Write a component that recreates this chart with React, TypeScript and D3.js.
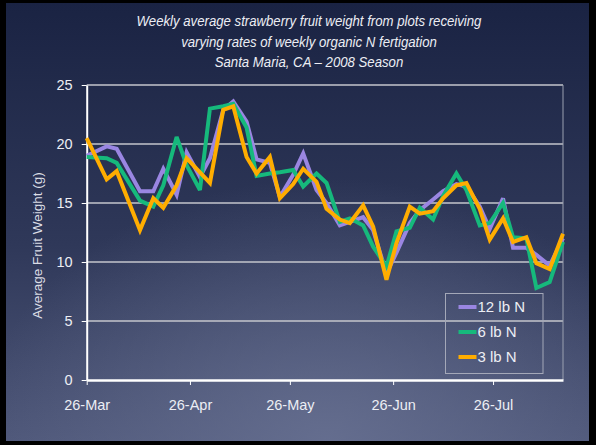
import React, { useEffect, useRef } from "react";
import * as d3 from "d3";

// ─── Data ─────────────────────────────────────────────────────────────────────
const DATES = [
  "2008-03-26", "2008-04-01", "2008-04-04", "2008-04-11", "2008-04-15",
  "2008-04-18", "2008-04-22", "2008-04-25", "2008-04-29", "2008-05-02",
  "2008-05-06", "2008-05-09", "2008-05-13", "2008-05-16", "2008-05-20",
  "2008-05-23", "2008-05-27", "2008-05-30", "2008-06-03", "2008-06-06",
  "2008-06-10", "2008-06-13", "2008-06-17", "2008-06-20", "2008-06-24",
  "2008-06-27", "2008-07-01", "2008-07-04", "2008-07-08", "2008-07-11",
  "2008-07-15", "2008-07-18", "2008-07-22", "2008-07-25", "2008-07-29",
  "2008-08-01", "2008-08-05", "2008-08-08", "2008-08-12", "2008-08-16",
];

const N12 = [
  19.0, 19.8, 19.6, 16.0, 16.0, 17.9, 15.7, 19.3, 17.2, 18.8,
  22.9, 23.6, 21.9, 18.7, 18.4, 15.5, 17.4, 19.2, 16.1, 15.0,
  13.1, 13.4, 13.8, 12.7, 9.0, 10.8, 13.3, 14.4, 15.3, 16.0,
  16.6, 16.4, 14.7, 12.8, 15.4, 11.2, 11.2, 10.6, 9.7, 12.0,
];

const N6 = [
  18.9, 18.8, 18.4, 15.2, 14.7, 16.5, 20.6, 18.2, 16.1, 23.0,
  23.2, 23.4, 21.4, 17.3, 17.5, 17.6, 17.8, 16.4, 17.5, 16.7,
  13.4, 13.7, 13.1, 11.3, 9.6, 12.6, 12.9, 14.6, 13.6, 15.6,
  17.5, 16.1, 13.1, 13.3, 15.0, 12.1, 12.0, 7.8, 8.3, 11.7,
];

const N3 = [
  20.5, 17.0, 17.7, 12.7, 15.4, 14.6, 16.5, 18.8, 17.6, 16.7,
  22.9, 23.2, 18.9, 17.5, 18.9, 15.4, 16.6, 17.9, 16.8, 14.5,
  13.6, 13.3, 14.8, 13.0, 8.5, 11.6, 14.7, 14.1, 14.3, 15.4,
  16.5, 16.7, 14.5, 11.9, 13.7, 11.7, 12.1, 9.9, 9.4, 12.4,
];

const SERIES_NAMES = ["12 lb N", "6 lb N", "3 lb N"];
const X_TICKS = ["2008-03-26", "2008-04-26", "2008-05-26", "2008-06-26", "2008-07-26"];
const Y_TICKS = [0, 5, 10, 15, 20, 25];
const TITLE_LINES = [
  "Weekly average strawberry fruit weight from plots receiving",
  "varying rates of weekly organic N fertigation",
  "Santa Maria, CA – 2008 Season",
];

// ─── Design tokens ────────────────────────────────────────────────────────────
const W = 596;
const H = 445;
const PLOT = { left: 86.7, right: 563, top: 85, bottom: 380 };
const COLORS = ["#9a86e2", "#16b97c", "#ffad00"];
const GRID_STROKE = "#c4c6cc";
const TEXT = "#eceef4";
const FONT = "'Liberation Sans', Arial, sans-serif";

const parse = d3.timeParse("%Y-%m-%d");

export default function App() {
  const svgRef = useRef<SVGSVGElement>(null);

  useEffect(() => {
    const node = svgRef.current;
    if (!node) return;
    const svg = d3.select(node);
    svg.selectAll("*").remove();

    // ── Background (slide) ─────────────────────────────────────────────────
    const defs = svg.append("defs");
    const lin = defs
      .append("linearGradient")
      .attr("id", "bg")
      .attr("x1", 0).attr("y1", 0).attr("x2", 0).attr("y2", 1);
    lin.append("stop").attr("offset", "0%").attr("stop-color", "#1a2343");
    lin.append("stop").attr("offset", "55%").attr("stop-color", "#2f3859");
    lin.append("stop").attr("offset", "100%").attr("stop-color", "#4e5779");
    const rad = defs
      .append("radialGradient")
      .attr("id", "glow")
      .attr("cx", 0.55).attr("cy", 1).attr("r", 0.6);
    rad.append("stop").attr("offset", "0%").attr("stop-color", "#6a7394").attr("stop-opacity", 0.8);
    rad.append("stop").attr("offset", "100%").attr("stop-color", "#6a7394").attr("stop-opacity", 0);

    svg.append("rect").attr("width", W).attr("height", H).attr("fill", "#000");
    svg.append("rect").attr("x", 6).attr("y", 3).attr("width", 583).attr("height", 438).attr("fill", "url(#bg)");
    svg.append("rect").attr("x", 6).attr("y", 3).attr("width", 583).attr("height", 438).attr("fill", "url(#glow)");

    // ── Title (condensed italic) ───────────────────────────────────────────
    svg.append("g")
      .selectAll("text")
      .data(TITLE_LINES)
      .join("text")
      .attr("transform", (_, i) => `translate(309,${26 + i * 20.5}) scale(0.88,1)`)
      .attr("text-anchor", "middle")
      .attr("font-family", FONT)
      .attr("font-style", "italic")
      .attr("font-size", 15)
      .attr("fill", TEXT)
      .text((d) => d);

    // ── Scales ────────────────────────────────────────────────────────────
    const dates = DATES.map((d) => parse(d) as Date);
    const x = d3
      .scaleTime()
      .domain([dates[0], dates[dates.length - 1]])
      .range([PLOT.left, PLOT.right]);
    const y = d3.scaleLinear().domain([0, 25]).range([PLOT.bottom, PLOT.top]);

    // ── Grid lines ────────────────────────────────────────────────────────
    svg.append("g")
      .selectAll("line")
      .data(Y_TICKS.filter((t) => t > 0))
      .join("line")
      .attr("x1", PLOT.left)
      .attr("x2", PLOT.right)
      .attr("y1", (d) => y(d))
      .attr("y2", (d) => y(d))
      .attr("stroke", GRID_STROKE)
      .attr("stroke-width", 1.6);

    // plot area right border
    svg.append("line")
      .attr("x1", PLOT.right).attr("x2", PLOT.right)
      .attr("y1", PLOT.top).attr("y2", PLOT.bottom)
      .attr("stroke", "#9aa0b0")
      .attr("stroke-width", 1);

    // ── Axes ──────────────────────────────────────────────────────────────
    const yAxis = svg
      .append("g")
      .attr("transform", `translate(${PLOT.left},0)`)
      .call(d3.axisLeft(y).tickValues(Y_TICKS).tickSize(5).tickPadding(9).tickSizeOuter(0));
    yAxis.select(".domain").attr("stroke", "#fff").attr("stroke-width", 2);
    yAxis.selectAll(".tick line").attr("stroke", "#fff").attr("stroke-width", 1);
    yAxis.selectAll("text")
      .attr("fill", TEXT)
      .attr("font-size", 14.5)
      .attr("font-family", FONT);

    const xAxis = svg
      .append("g")
      .attr("transform", `translate(0,${PLOT.bottom})`)
      .call(
        d3
          .axisBottom(x)
          .tickValues(X_TICKS.map((d) => parse(d) as Date))
          .tickFormat((d) => d3.timeFormat("%d-%b")(d as Date))
          .tickSize(5)
          .tickPadding(15)
          .tickSizeOuter(0),
      );
    xAxis.select(".domain").attr("stroke", "#fff").attr("stroke-width", 2.5);
    xAxis.selectAll(".tick line").attr("stroke", "#fff").attr("stroke-width", 1);
    xAxis.selectAll("text")
      .attr("fill", TEXT)
      .attr("font-size", 14.5)
      .attr("font-family", FONT);

    // ── Axis label ────────────────────────────────────────────────────────
    svg.append("text")
      .attr("transform", `translate(42,${(PLOT.top + PLOT.bottom) / 2 + 13}) rotate(-90)`)
      .attr("text-anchor", "middle")
      .attr("font-family", FONT)
      .attr("font-size", 13.5)
      .attr("fill", "#dcdee6")
      .text("Average Fruit Weight (g)");

    // ── Lines ─────────────────────────────────────────────────────────────
    const allSeries = [N12, N6, N3];
    const line = d3
      .line<number>()
      .x((_, i) => x(dates[i]))
      .y((d) => y(d));

    svg.append("g")
      .selectAll("path")
      .data(allSeries)
      .join("path")
      .attr("d", (d) => line(d))
      .attr("fill", "none")
      .attr("stroke", (_, i) => COLORS[i])
      .attr("stroke-width", 4)
      .attr("stroke-linejoin", "miter")
      .attr("stroke-miterlimit", 3);

    // ── Legend ────────────────────────────────────────────────────────────
    const lg = svg.append("g").attr("transform", "translate(445.5,293.5)");
    lg.append("rect")
      .attr("width", 97.5)
      .attr("height", 80)
      .attr("fill", "none")
      .attr("stroke", "#a4a8b8")
      .attr("stroke-width", 1);
    const items = lg
      .selectAll("g")
      .data(SERIES_NAMES)
      .join("g")
      .attr("transform", (_, i) => `translate(0,${13.5 + i * 25})`);
    items.append("line")
      .attr("x1", 13).attr("x2", 31)
      .attr("stroke", (_, i) => COLORS[i])
      .attr("stroke-width", 4);
    items.append("text")
      .attr("x", 32)
      .attr("dy", "0.36em")
      .attr("font-family", FONT)
      .attr("font-size", 15)
      .attr("fill", TEXT)
      .text((d) => d);
  }, []);

  return (
    <svg
      ref={svgRef}
      width={W}
      height={H}
      style={{ position: "fixed", left: 0, top: 0, display: "block" }}
    />
  );
}
